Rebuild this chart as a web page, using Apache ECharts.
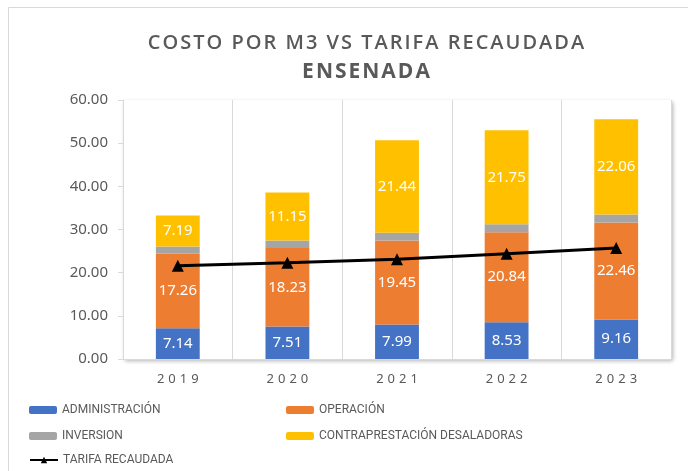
<!DOCTYPE html>
<html>
<head>
<meta charset="utf-8">
<script src="https://cdn.jsdelivr.net/npm/echarts@6/dist/echarts.min.js"></script>
<style>
  html, body { margin: 0; padding: 0; background: #fff; }
  #chart { width: 688px; height: 471px; }
</style>
</head>
<body>
<div id="chart"></div>
<script>
// valores
var years = ['2019', '2020', '2021', '2022', '2023'];
var administracion = [7.14, 7.51, 7.99, 8.53, 9.16];
var operacion = [17.26, 18.23, 19.45, 20.84, 22.46];
var inversion = [1.65, 1.7, 1.8, 1.85, 1.85];
var contraprestacion = [7.19, 11.15, 21.44, 21.75, 22.06];
var tarifa = [21.6, 22.3, 23.1, 24.4, 25.7];
var yTicks = [0, 10, 20, 30, 40, 50, 60];

// espaciado entre letras con texto enriquecido
function spaced(txt, key) {
    return txt.split('').map(function (c) { return '{' + key + '|' + c + '}'; }).join('');
}

function createChart(id) {
    var myChart = echarts.init(document.getElementById(id));
    var labelFont = 'Noto Sans, sans-serif';
    var barLabel = {
        show: true,
        position: 'inside',
        color: '#fff',
        fontSize: 15,
        fontFamily: labelFont,
        formatter: function (p) { return p.value.toFixed(2); }
    };
    var legendText = { color: '#595959', fontSize: 12, fontFamily: 'Roboto, sans-serif' };

    function oneLegend(name, left, center) {
        return {
            left: left, top: center - 7, padding: 0,
            itemWidth: 28, itemHeight: 8,
            textStyle: legendText,
            data: [name]
        };
    }

    var option = {
        animation: false,
        title: [{
            text: spaced('COSTO POR M3 VS TARIFA RECAUDADA', 't'),
            left: 361, top: 28, textAlign: 'center',
            textStyle: {
                rich: { t: { color: '#595959', fontSize: 20, fontWeight: 600, fontFamily: 'Open Sans, sans-serif', padding: [0, 1, 0, 1] } }
            }
        }, {
            text: spaced('ENSENADA', 'e'),
            left: 361, top: 57, textAlign: 'center',
            textStyle: {
                rich: { e: { color: '#595959', fontSize: 21, fontWeight: 'bold', fontFamily: 'Open Sans, sans-serif', padding: [0, 1, 0, 1] } }
            }
        }],
        graphic: [{
            type: 'rect', silent: true,
            shape: { x: 8.5, y: 7.5, width: 700, height: 500 },
            style: { fill: null, stroke: '#d9d9d9', lineWidth: 1 }
        }],
        legend: [
            oneLegend('ADMINISTRACIÓN', 29, 411),
            oneLegend('OPERACIÓN', 286, 411),
            oneLegend('INVERSION', 29, 437),
            oneLegend('CONTRAPRESTACIÓN DESALADORAS', 286, 437),
            oneLegend('TARIFA RECAUDADA', 29, 461)
        ],
        grid: {
            left: 123, right: 17, top: 100, bottom: 112,
            show: true, backgroundColor: '#fff', borderWidth: 0,
            shadowColor: 'rgba(0,0,0,0.3)', shadowBlur: 4, shadowOffsetX: 2, shadowOffsetY: 2
        },
        xAxis: {
            type: 'category',
            data: years,
            axisLine: { lineStyle: { color: '#d9d9d9' } },
            axisTick: { show: false },
            axisLabel: {
                interval: 0,
                margin: 14,
                formatter: function (v) { return spaced(v, 'y'); },
                rich: { y: { color: '#595959', fontSize: 13, fontFamily: labelFont, padding: [0, 2, 0, 2] } }
            },
            splitLine: { show: true, interval: 0, lineStyle: { color: '#d9d9d9' } }
        },
        yAxis: {
            type: 'value',
            min: yTicks[0], max: yTicks[yTicks.length - 1], interval: 10,
            axisLine: { show: true, lineStyle: { color: '#d9d9d9' } },
            axisTick: { show: true, length: 5, lineStyle: { color: '#d9d9d9' } },
            axisLabel: { color: '#595959', fontSize: 15, margin: 15, fontFamily: labelFont,
                formatter: function (v) { return v.toFixed(2); } },
            splitLine: { show: false }
        },
        series: [
            { name: 'ADMINISTRACIÓN', type: 'bar', stack: 'c', barWidth: '40%', data: administracion,
              itemStyle: { color: '#4472C4' }, label: barLabel },
            { name: 'OPERACIÓN', type: 'bar', stack: 'c', data: operacion,
              itemStyle: { color: '#ED7D31' }, label: barLabel },
            { name: 'INVERSION', type: 'bar', stack: 'c', data: inversion,
              itemStyle: { color: '#A5A5A5' } },
            { name: 'CONTRAPRESTACIÓN DESALADORAS', type: 'bar', stack: 'c', data: contraprestacion,
              itemStyle: { color: '#FFC000' }, label: barLabel },
            { name: 'TARIFA RECAUDADA', type: 'line', data: tarifa,
              symbol: 'triangle', symbolSize: 12,
              itemStyle: { color: '#000' }, lineStyle: { color: '#000', width: 3 } }
        ]
    };
    myChart.setOption(option);
}

createChart('chart');
</script>
</body>
</html>
